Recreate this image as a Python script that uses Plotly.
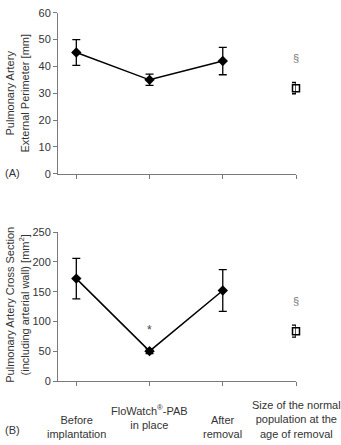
import plotly.graph_objects as go

categories = ["Before<br>implantation", "FloWatch<sup>®</sup>-PAB<br>in place", "After<br>removal",
              "Size of the normal<br>population at the<br>age of removal"]
cat_pos = [0, 1, 2, 3]

# Panel A: external perimeter [mm]
perim_mean = [45.2, 35.0, 42.0]
perim_err = [4.8, 2.1, 5.1]
perim_norm = [31.9]
perim_norm_err = [2.1]
perim_mark = ["§"]
perim_mark_y = [43.2]

# Panel B: cross section [mm²]
cross_mean = [172, 50.5, 152]
cross_err = [34, 4, 35]
cross_norm = [84]
cross_norm_err = [10]
cross_marks = ["*", "§"]
cross_marks_x = [1, 3]
cross_marks_y = [86, 135]

axcol = "#7a7a7a"
txt = "#333333"
FONT = "Liberation Sans, Arial, sans-serif"

fig = go.Figure()

def add_panel(xa, ya, mean, err, norm, nerr):
    fig.add_trace(go.Scatter(
        x=cat_pos[:3], y=mean, mode="lines+markers",
        line=dict(color="black", width=1.5),
        marker=dict(symbol="diamond", size=8, color="black"),
        error_y=dict(type="data", array=err, color="black", thickness=1.3, width=4),
        xaxis=xa, yaxis=ya, showlegend=False, cliponaxis=False))
    fig.add_trace(go.Scatter(
        x=cat_pos[3:], y=norm, mode="markers",
        marker=dict(symbol="square-open", size=7, color="black", line=dict(width=1.5)),
        error_y=dict(type="data", array=nerr, color="black", thickness=1.3, width=4),
        xaxis=xa, yaxis=ya, showlegend=False, cliponaxis=False))

add_panel("x", "y", perim_mean, perim_err, perim_norm, perim_norm_err)
add_panel("x2", "y2", cross_mean, cross_err, cross_norm, cross_norm_err)

xdom = [58 / 341, 296 / 341]
xcommon = dict(range=[-0.25, 3], tickvals=cat_pos, ticks="outside", ticklen=4,
               tickcolor=axcol, showticklabels=False, showline=True, linecolor=axcol,
               linewidth=1, showgrid=False, zeroline=False, fixedrange=True, domain=xdom)
ycommon = dict(ticks="outside", ticklen=4, tickcolor=axcol, showline=True, linecolor=axcol,
               linewidth=1, showgrid=False, zeroline=False,
               tickfont=dict(family=FONT, size=11, color=txt))

fig.update_layout(
    width=341, height=445, margin=dict(l=0, r=0, t=0, b=0),
    paper_bgcolor="white", plot_bgcolor="white",
    font=dict(family=FONT, size=11, color=txt),
    xaxis=dict(**xcommon, anchor="y"),
    yaxis=dict(**ycommon, range=[0, 60], dtick=10, anchor="x",
               domain=[1 - 172.3 / 445, 1 - 7 / 445]),
    xaxis2=dict(**xcommon, anchor="y2"),
    yaxis2=dict(**ycommon, range=[0, 250], dtick=50, anchor="x2",
                domain=[1 - 385.7 / 445, 1 - 232.3 / 445]),
)

ann = []
# y titles
ann.append(dict(text="Pulmonary Artery<br>External Perimeter [mm]", textangle=-90,
                x=17 / 341, y=1 - 90 / 445, xref="paper", yref="paper",
                xanchor="center", yanchor="middle",
                showarrow=False, font=dict(size=11, color=txt)))
ann.append(dict(text="Pulmonary Artery Cross Section<br>(including arterial wall) [mm<sup>2</sup>]",
                textangle=-90, x=17 / 341, y=1 - 307 / 445, xref="paper", yref="paper",
                xanchor="center", yanchor="middle",
                showarrow=False, font=dict(size=11, color=txt)))
# panel labels
ann.append(dict(text="(A)", x=3 / 341, y=1 - 172 / 445, xref="paper", yref="paper",
                xanchor="left", yanchor="middle", showarrow=False, font=dict(size=11, color=txt)))
ann.append(dict(text="(B)", x=3 / 341, y=1 - 436 / 445, xref="paper", yref="paper",
                xanchor="left", yanchor="middle", showarrow=False, font=dict(size=11, color=txt)))
# category labels (bottom aligned)
for i, (c, p) in enumerate(zip(categories, cat_pos)):
    ann.append(dict(text=c, x=p, xref="x2", y=0, yref="paper",
                    xanchor="center", yanchor="bottom", showarrow=False,
                    yshift=(6 if i == 1 else -3),
                    font=dict(size=11, color=txt)))
# markers
for t, y in zip(perim_mark, perim_mark_y):
    ann.append(dict(text=t, x=3, y=y, xref="x", yref="y", showarrow=False,
                    font=dict(size=11, color="#777777")))
for t, xx, y in zip(cross_marks, cross_marks_x, cross_marks_y):
    ann.append(dict(text=t, x=xx, y=y, xref="x2", yref="y2", showarrow=False,
                    font=dict(size=12 if t == "*" else 11,
                              color="#444444" if t == "*" else "#777777")))
fig.update_layout(annotations=ann)

fig.write_html("out.html", config={"displayModeBar": False})
